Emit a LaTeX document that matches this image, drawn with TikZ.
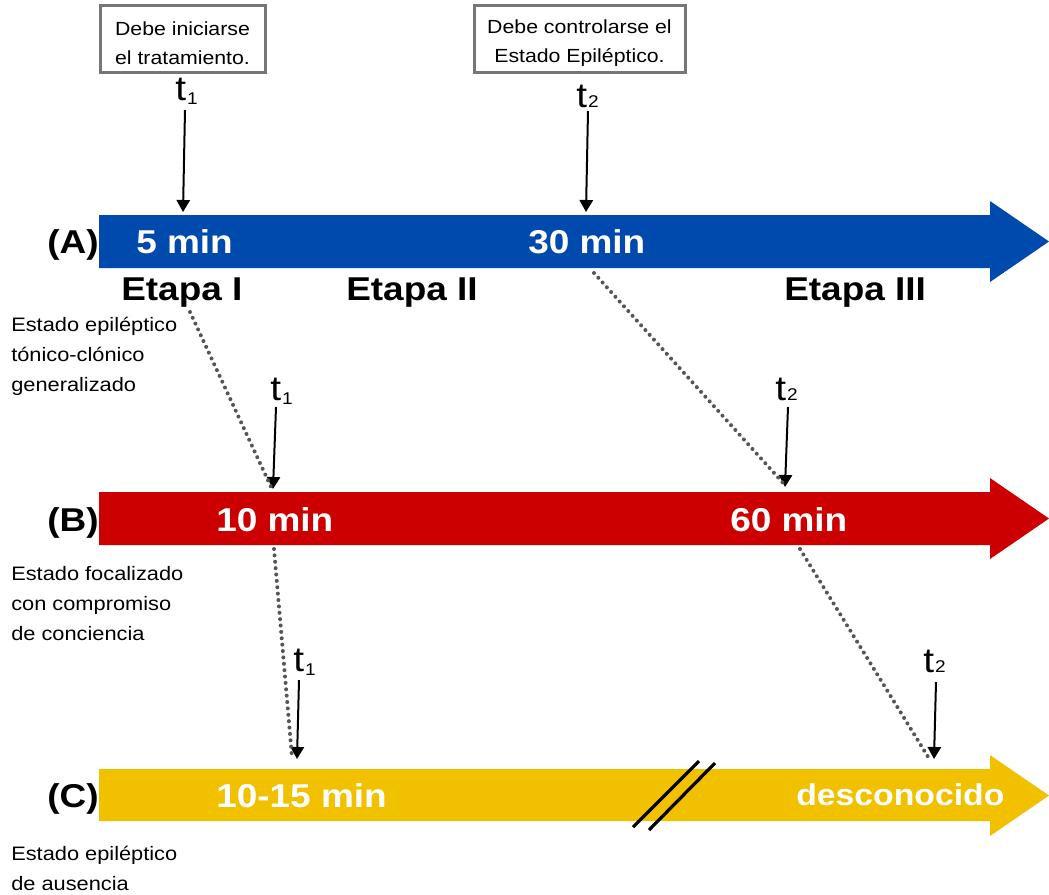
\documentclass[tikz,border=0pt]{standalone}
\usepackage{fontspec}
\setmainfont{Liberation Sans}[FakeStretch=1.12]
\usetikzlibrary{arrows.meta}
\definecolor{rowA}{HTML}{004AAD}
\definecolor{rowB}{HTML}{CC0000}
\definecolor{rowC}{HTML}{F1C100}
\definecolor{boxgray}{HTML}{767676}
\definecolor{dotgray}{HTML}{555555}
\newcommand\tmark[2]{t\kern0.8pt\raisebox{#2}{\fontsize{12.75}{14}\selectfont #1}}

\begin{document}
\begin{tikzpicture}[x=0.75pt,y=-0.75pt,
  big/.style={anchor=base west,inner sep=0pt,font=\fontsize{24.75}{28}\selectfont\bfseries},
  onbar/.style={big,text=white},
  side/.style={anchor=base west,inner sep=0pt,align=left,
    font=\fontsize{14.6}{22.5}\selectfont},
  notebox/.style={draw=boxgray,line width=2.25pt,inner sep=0pt},
  notetext/.style={align=center,inner sep=0pt,font=\fontsize{14.25}{21.75}\selectfont},
  tlab/.style={anchor=base west,inner sep=0pt,font=\fontsize{26}{30}\selectfont},
  ptr/.style={line width=1.5pt,-{Triangle[width=10pt,length=9pt]}},
  link/.style={dotgray,line width=3pt,line cap=round,dash pattern=on 0pt off 4.8pt},
  brk/.style={line width=2.4pt,black}]
\useasboundingbox (0,0) rectangle (1049,894);

% timeline bars
\fill[rowA] (99,215) -- (990,215) -- (990,201) -- (1049,241.5) -- (990,282) -- (990,268) -- (99,268) -- cycle;
\fill[rowB] (99,492) -- (990,492) -- (990,478) -- (1049,518.5) -- (990,559) -- (990,545) -- (99,545) -- cycle;
\fill[rowC] (99,769) -- (990,769) -- (990,755) -- (1049,795.5) -- (990,836) -- (990,821) -- (99,821) -- cycle;

% break marks on the (C) bar
\coordinate (k1a) at (633,827); \coordinate (k1b) at (699,761);
\coordinate (k2a) at (649,830); \coordinate (k2b) at (715,763);
\draw[brk] (k1a) -- (k1b);
\draw[brk] (k2a) -- (k2b);

% row labels
\node[big] (labA) at (47,253) {(A)};
\node[big] (labB) at (47,531) {(B)};
\node[big] (labC) at (47,807) {(C)};

% times on the bars
\node[onbar] (a5) at (136,253) {5 min};
\node[onbar] (a30) at (528,253) {30 min};
\node[onbar] (b10) at (216,531) {10 min};
\node[onbar] (b60) at (730,531) {60 min};
\node[onbar] (c10) at (216,807) {10-15 min};
\node[onbar,font=\fontsize{22.6}{26}\selectfont\bfseries] (cun) at (796,805) {desconocido};

% stages
\node[big] (e1) at (121,300) {Etapa I};
\node[big] (e2) at (346,300) {Etapa II};
\node[big] (e3) at (784,300) {Etapa III};

% descriptions (anchored at the baseline of their last line)
\node[side] (dA) at (11,391) {Estado epiléptico\\tónico-clónico\\generalizado};
\node[side] (dB) at (11,640) {Estado focalizado\\con compromiso\\de conciencia};
\node[side] (dC) at (11,890) {Estado epiléptico\\de ausencia};

% notes
\node[notebox,minimum width=123.75pt,minimum height=50.25pt] (n1) at (182.5,38.5) {};
\node[notebox,minimum width=158.25pt,minimum height=50.25pt] (n2) at (579.5,38.5) {};
\node[notetext] (n1t) at ([yshift=-3.4pt]n1.center) {Debe iniciarse\\el tratamiento.};
\node[notetext] (n2t) at ([yshift=-3.4pt]n2.center) {Debe controlarse el\\Estado Epiléptico.};

% time marks
\node[tlab] (tA1) at (175,100) {\tmark{1}{-3.5pt}};
\node[tlab] (tA2) at (576,107) {\tmark{2}{0pt}};
\node[tlab] (tB1) at (270,400) {\tmark{1}{-3.5pt}};
\node[tlab] (tB2) at (775,400) {\tmark{2}{0pt}};
\node[tlab] (tC1) at (293,671) {\tmark{1}{-3.5pt}};
\node[tlab] (tC2) at (923,672) {\tmark{2}{0pt}};

\coordinate (pA1s) at (185,110); \coordinate (pA1e) at (183,212);
\coordinate (pA2s) at (588,111); \coordinate (pA2e) at (586,212);
\coordinate (pB1s) at (276,407); \coordinate (pB1e) at (273,489);
\coordinate (pB2s) at (788,407); \coordinate (pB2e) at (785,487);
\coordinate (pC1s) at (299,680); \coordinate (pC1e) at (297,759);
\coordinate (pC2s) at (936,682); \coordinate (pC2e) at (934,759);
\draw[ptr] (pA1s) -- (pA1e);
\draw[ptr] (pA2s) -- (pA2e);
\draw[ptr] (pB1s) -- (pB1e);
\draw[ptr] (pB2s) -- (pB2e);
\draw[ptr] (pC1s) -- (pC1e);
\draw[ptr] (pC2s) -- (pC2e);

% dotted links between rows
\coordinate (d1a) at (190,312); \coordinate (d1b) at (272,489);
\coordinate (d2a) at (594,273); \coordinate (d2b) at (784,484);
\coordinate (d3a) at (274,549); \coordinate (d3b) at (292,757);
\coordinate (d4a) at (800,549); \coordinate (d4b) at (930,760);
\draw[link] (d1a) -- (d1b);
\draw[link] (d2a) -- (d2b);
\draw[link] (d3a) -- (d3b);
\draw[link] (d4a) -- (d4b);
\end{tikzpicture}
\end{document}
